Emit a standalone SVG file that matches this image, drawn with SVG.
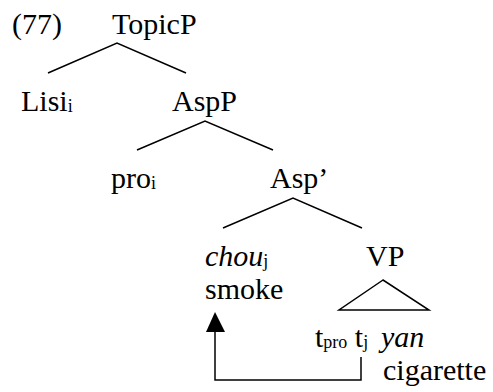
<svg xmlns="http://www.w3.org/2000/svg" width="493" height="392" viewBox="0 0 493 392">
<style>
text{font-family:'Liberation Serif','Times New Roman','DejaVu Serif',serif;font-size:30px;fill:#000}
.sub{font-size:18px}
.it{font-style:italic}
.edge{stroke:#000;stroke-width:1.5;fill:none}
</style>
<g id="label77"><text x="12" y="34">(77)</text></g>
<g id="TopicP"><text x="112" y="34">TopicP</text></g>
<g id="Lisi"><text x="21" y="111">Lisi<tspan class="sub" dy="1">i</tspan></text></g>
<g id="AspP"><text x="172" y="111">AspP</text></g>
<g id="pro"><text x="111" y="188">pro<tspan class="sub" dy="1">i</tspan></text></g>
<g id="AspBar"><text x="270" y="188">Asp’</text></g>
<g id="chou"><text x="205" y="266"><tspan class="it">chou</tspan><tspan class="sub" dy="1">j</tspan></text><text x="205" y="299">smoke</text></g>
<g id="VP"><text x="366" y="266">VP</text><polygon class="edge" points="383,280 339,310 429,310"/></g>
<g id="traces"><text x="315" y="347">t<tspan class="sub" dy="1">pro</tspan><tspan dy="-1"> t</tspan><tspan class="sub" dy="1">j</tspan><tspan class="it" x="381" dy="-1">yan</tspan></text><text x="383" y="380">cigarette</text></g>
<g id="connectors">
<polyline class="edge" points="48,73 117,43 186,73"/>
<polyline class="edge" points="137,150 205,121 273,150"/>
<polyline class="edge" points="223,228 293,198 362,228"/>
<polyline class="edge" points="361,357 361,380 215,380 215,330"/>
<polygon points="215,312 206,332 225,332" fill="#000"/>
</g>
</svg>
